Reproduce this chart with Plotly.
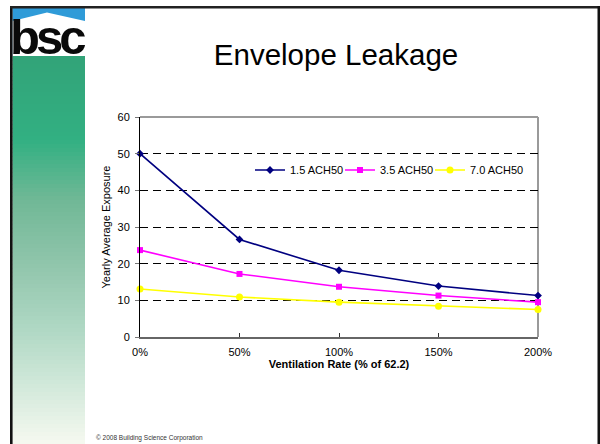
import plotly.graph_objects as go

categories = ["0%", "50%", "100%", "150%", "200%"]
series_names = ["1.5 ACH50", "3.5 ACH50", "7.0 ACH50"]
ach15 = [50.0, 26.6, 18.2, 13.9, 11.3]
ach35 = [23.7, 17.2, 13.7, 11.3, 9.5]
ach70 = [13.1, 10.9, 9.5, 8.4, 7.5]
y_ticks = [0, 10, 20, 30, 40, 50, 60]

W, H = 600, 444
L, R, T, B = 140, 538, 117, 337
PW, PH = R - L, B - T

def px(x):
    return (x - L) / PW

def py(y):
    return (B - y) / PH

fig = go.Figure()
styles = [
    dict(color="#000080", symbol="diamond", size=6),
    dict(color="#FF00FF", symbol="square", size=6),
    dict(color="#FFFF00", symbol="circle", size=7),
]
legend_ids = ["legend", "legend2", "legend3"]
for name, vals, st, lg in zip(series_names, [ach15, ach35, ach70], styles, legend_ids):
    fig.add_trace(go.Scatter(
        x=list(range(len(categories))), y=vals, name=name, mode="lines+markers",
        line=dict(color=st["color"], width=1.6),
        marker=dict(color=st["color"], symbol=st["symbol"], size=st["size"]),
        cliponaxis=False, hoverinfo="skip", legend=lg,
    ))

shapes = []
# sidebar gradient
stops = [
    (56, (50, 163, 120)),
    (140, (50, 176, 130)),
    (200, (112, 184, 150)),
    (260, (142, 196, 170)),
    (330, (176, 216, 196)),
    (380, (206, 231, 216)),
    (444, (246, 249, 240)),
]
def col_at(y):
    for (y0, c0), (y1, c1) in zip(stops[:-1], stops[1:]):
        if y0 <= y <= y1:
            t = (y - y0) / (y1 - y0)
            return "rgb(%d,%d,%d)" % tuple(round(a + (b - a) * t) for a, b in zip(c0, c1))
    return "rgb(%d,%d,%d)" % stops[-1][1]
step = 4
yy = 56
while yy < 444:
    shapes.append(dict(type="rect", xref="paper", yref="paper", layer="below",
                       x0=px(12.5), x1=px(85), y0=py(yy), y1=py(min(yy + step + 0.5, 444)),
                       line=dict(width=0), fillcolor=col_at(yy + step / 2)))
    yy += step
# logo: blue sky, white house
shapes.append(dict(type="rect", xref="paper", yref="paper", layer="below",
                   x0=px(12.5), x1=px(85), y0=py(8), y1=py(56),
                   line=dict(width=0), fillcolor="#2F9BD8"))
def path_pts(pts):
    s = "M %f,%f " % (px(pts[0][0]), py(pts[0][1]))
    for a, b in pts[1:]:
        s += "L %f,%f " % (px(a), py(b))
    return s + "Z"
shapes.append(dict(type="path", xref="paper", yref="paper", layer="below",
                   path=path_pts([(12.5, 21), (47, 12.5), (85, 21), (85, 56), (12.5, 56)]),
                   line=dict(width=0), fillcolor="#FFFFFF"))
# frame
shapes.append(dict(type="line", xref="paper", yref="paper", x0=px(11.3), x1=px(11.3), y0=py(6), y1=py(444),
                   line=dict(color="#111111", width=2.6)))
shapes.append(dict(type="line", xref="paper", yref="paper", x0=px(10), x1=px(600), y0=py(7.2), y1=py(7.2),
                   line=dict(color="#222222", width=2.6)))
shapes.append(dict(type="line", xref="paper", yref="paper", x0=px(598.8), x1=px(598.8), y0=py(6), y1=py(444),
                   line=dict(color="#111111", width=2.6)))
# plot area border (top/right grey)
shapes.append(dict(type="line", xref="paper", yref="paper", layer="between", x0=0, x1=1, y0=1, y1=1,
                   line=dict(color="#9A9A9A", width=2)))
shapes.append(dict(type="line", xref="paper", yref="paper", layer="between", x0=1, x1=1, y0=0, y1=1,
                   line=dict(color="#9A9A9A", width=2)))

annotations = [
    dict(text="<b><span style=\"letter-spacing:-4px\">bsc</span></b>", xref="paper", yref="paper",
         x=px(47), y=py(37), xanchor="center", yanchor="middle",
         showarrow=False, font=dict(family="Liberation Sans, Arial", size=49, color="#0A0A0A")),
    dict(text="© 2008 Building Science Corporation", xref="paper", yref="paper", x=px(94), y=py(437.5),
         xanchor="left", yanchor="middle", showarrow=False,
         font=dict(family="Liberation Sans, Arial", size=6.5, color="#333333")),
]

def leg(xpix):
    return dict(orientation="h", x=px(xpix), y=py(170), xanchor="left", yanchor="middle",
                bgcolor="rgba(0,0,0,0)", font=dict(size=11), itemwidth=30, borderwidth=0)

fig.update_layout(
    width=W, height=H, margin=dict(l=L, r=W - R, t=T, b=H - B, pad=0),
    paper_bgcolor="white", plot_bgcolor="white",
    font=dict(family="Liberation Sans, Arial", size=11, color="#000000"),
    title=dict(text="Envelope Leakage", x=336 / W, xref="container", xanchor="center",
               y=1 - 55 / H, yref="container", yanchor="middle",
               font=dict(family="Liberation Sans, Arial", size=29.5, color="#000000")),
    showlegend=True,
    legend=leg(250), legend2=leg(340), legend3=leg(430),
    shapes=shapes, annotations=annotations,
    xaxis=dict(range=[0, 4], tickmode="array", tickvals=list(range(len(categories))), ticktext=categories,
               showgrid=False, zeroline=False, showline=True, linecolor="#666666", linewidth=2,
               ticks="inside", ticklen=4, tickcolor="#333333", tickwidth=1, ticklabelstandoff=4,
               tickfont=dict(size=11),
               title=dict(text="<b>Ventilation Rate (% of 62.2)</b>", standoff=3, font=dict(size=11))),
    yaxis=dict(range=[0, 60], tickmode="array", tickvals=y_ticks, showgrid=True, gridcolor="#000000",
               gridwidth=1, griddash="8px,5px", zeroline=False, showline=True, linecolor="#000000", linewidth=1,
               ticks="outside", ticklen=4, tickcolor="#777777", ticklabelstandoff=3,
               tickfont=dict(size=11),
               title=dict(text="Yearly Average Exposure", standoff=4, font=dict(size=11))),
)

fig.write_html("out.html", config={"displayModeBar": False, "staticPlot": True},
               post_script="document.body.style.margin='0';")
